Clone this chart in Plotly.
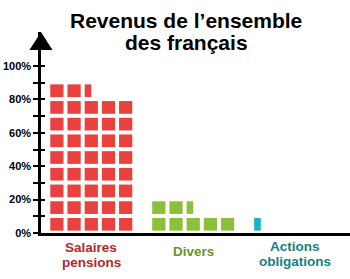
import plotly.graph_objects as go

# ---- data ----
categories = ["Salaires<br>pensions", "Divers", "Actions<br>obligations"]
values_pct = [85, 15, 1]            # share of revenue (%)
tile_colors = ["#e8413e", "#8dc03a", "#18b4c4"]
label_colors = ["#b3292b", "#6d9130", "#197e84"]
tick_vals = [0, 10, 20, 30, 40, 50, 60, 70, 80, 90, 100]
tick_labels = ["0%", "", "20%", "", "40%", "", "60%", "", "80%", "", "100%"]

PCT_PER_TILE = 2
TILES_PER_ROW = 5
ROW_STEP = 10          # % of axis per row of tiles
GROUP_STEP = 5.93      # column units between groups
TILE_W = 0.77
TILE_H = 7.6
TILE_BASE = 1.4

FONT = "Liberation Sans, Arial, sans-serif"

fig = go.Figure()

for gi, (cat, val, col) in enumerate(zip(categories, values_pct, tile_colors)):
    n = val / PCT_PER_TILE
    xs, ws, bs, hs = [], [], [], []
    k = 0
    while n - k > 1e-9:
        frac = min(1.0, n - k)
        row, c = divmod(k, TILES_PER_ROW)
        left = gi * GROUP_STEP + c - TILE_W / 2
        w = frac * TILE_W
        xs.append(left + w / 2)
        ws.append(w)
        bs.append(row * ROW_STEP + TILE_BASE)
        hs.append(TILE_H)
        k += 1
    fig.add_trace(go.Bar(x=xs, y=hs, base=bs, width=ws,
                         marker=dict(color=col, line=dict(width=0)),
                         showlegend=False, hoverinfo="skip"))

# invisible trace to create the overlay axis (inside ticks)
fig.add_trace(go.Scatter(x=[0], y=[0], yaxis="y2", mode="markers",
                         marker=dict(opacity=0), showlegend=False, hoverinfo="skip"))

Y_TOP = 120.36
fig.update_layout(
    width=350, height=279,
    margin=dict(l=41, r=0, t=32, b=46),
    paper_bgcolor="white", plot_bgcolor="white",
    barmode="overlay",
    xaxis=dict(range=[-0.925, 17.05], showline=True, linewidth=2.5, linecolor="black",
               showticklabels=False, ticks="", showgrid=False, zeroline=False, fixedrange=True),
    yaxis=dict(range=[0, Y_TOP], tickvals=tick_vals, ticktext=tick_labels,
               showline=True, linewidth=2.5, linecolor="black",
               ticks="outside", ticklen=5, tickwidth=2, tickcolor="black",
               tickfont=dict(family=FONT, size=11, color="black", weight="bold"),
               showgrid=False, zeroline=False),
    yaxis2=dict(range=[0, Y_TOP], overlaying="y", side="left", anchor="x",
                tickvals=tick_vals, ticks="inside", ticklen=4, tickwidth=2, tickcolor="black",
                showticklabels=False, showline=False, showgrid=False, zeroline=False),
)

# axis arrow head
fig.add_shape(type="path", xref="paper", yref="paper", xsizemode="pixel", ysizemode="pixel",
              xanchor=0, yanchor=1, path="M -11.5,-18 L 11.5,-18 L 0,0 Z",
              fillcolor="black", line=dict(width=0))

# title
PLOT_B, PLOT_H = 233, 201
def py(pix):
    return (PLOT_B - pix) / PLOT_H

title_lines = ["Revenus de l\u2019ensemble", "des fran\u00e7ais"]
for i, t in enumerate(title_lines):
    fig.add_annotation(text=t, xref="paper", yref="paper", x=(186 - 41) / 309, y=py(21 + 22 * i),
                       xanchor="center", yanchor="middle", showarrow=False,
                       font=dict(family=FONT, size=21, color="black", weight="bold"))

# category labels
for gi, (cat, lc) in enumerate(zip(categories, label_colors)):
    lines = cat.split("<br>")
    cx = gi * GROUP_STEP + (TILES_PER_ROW - 1) / 2
    if len(lines) == 1:
        ys = [252]
    else:
        ys = [247.5, 262.5] if gi == 0 else [246, 261]
    for ln, yy in zip(lines, ys):
        fig.add_annotation(text=ln, x=cx, xref="x", yref="paper", y=py(yy),
                           xanchor="center", yanchor="middle", showarrow=False,
                           font=dict(family=FONT, size=13.5, color=lc, weight="bold"))

fig.write_html("out.html")
